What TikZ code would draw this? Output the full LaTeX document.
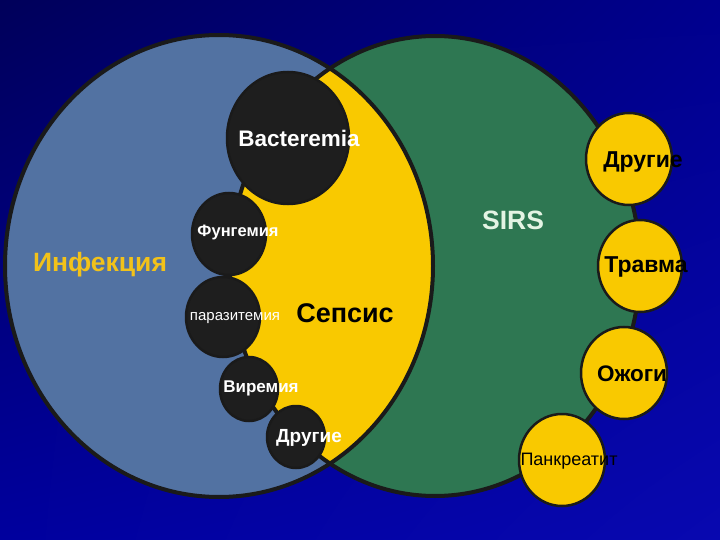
\documentclass[tikz,border=0pt]{standalone}
\usepackage{fontspec}
\setmainfont{Liberation Sans}
\usetikzlibrary{shapes.geometric,shadings}
\definecolor{NightTL}{HTML}{00005A}
\definecolor{NightTR}{HTML}{00008E}
\definecolor{NightBL}{HTML}{00009E}
\definecolor{NightBR}{HTML}{0808B0}
\definecolor{Steel}{HTML}{5272A2}
\definecolor{Forest}{HTML}{2E7752}
\definecolor{Sun}{HTML}{F9C900}
\definecolor{Coal}{HTML}{1E1E1E}
\definecolor{Rim}{HTML}{1A1A1A}
\definecolor{Mint}{HTML}{E4F4E4}
\definecolor{Amber}{HTML}{F2C21A}
\tikzset{
  ring/.style={draw=Rim, line width=4pt},
  coalball/.style={
    ellipse, draw=Rim, line width=2.5pt, fill=Coal, inner sep=0pt
  },
  sunball/.style={
    ellipse, draw=Rim, line width=2.5pt, fill=Sun, inner sep=0pt
  },
  lbl/.style={inner sep=0pt, font=\fontsize{#1}{#1}\selectfont\bfseries},
  plainlbl/.style={inner sep=0pt, font=\fontsize{#1}{#1}\selectfont}
}

\begin{document}
\begin{tikzpicture}[x=1pt,y=-1pt]
    \shade[upper left=NightTL,upper right=NightTR,lower left=NightBL,
      lower right=NightBR] (0,0) rectangle (720,540);
    \useasboundingbox (0,0) rectangle (720,540);

    % two big sets and their overlap
    \fill[Steel] (219,266) ellipse [x radius=214pt,y radius=231pt];
    \fill[Forest] (435,266) ellipse [x radius=205pt,y radius=230pt];
    \begin{scope}
      \clip (219,266) ellipse [x radius=214pt,y radius=231pt];
      \fill[Sun] (435,266) ellipse [x radius=205pt,y radius=230pt];
    \end{scope}
    \draw[ring] (219,266) ellipse [x radius=214pt,y radius=231pt];
    \draw[ring] (435,266) ellipse [x radius=205pt,y radius=230pt];

    \node[lbl=26.5,text=Amber] (infT) at (100,265) {Инфекция};
    \node[lbl=26.5,text=Mint] (sirsT) at (513,220) {SIRS};
    \node[lbl=27,text=black] (sepT) at (345,313) {Сепсис};

    % infections
    \node[coalball,minimum width=122pt,minimum height=132pt] (bact) at (288,138) {};
    \node[coalball,minimum width=74pt,minimum height=82pt] (fung) at (229,234) {};
    \node[coalball,minimum width=74pt,minimum height=80pt] (para) at (223,317) {};
    \node[coalball,minimum width=58pt,minimum height=64pt] (vir) at (249,389) {};
    \node[coalball,minimum width=58pt,minimum height=62pt] (othI) at (296,437) {};
    \node[lbl=22.5,text=white] (bactT) at (299,138) {Bacteremia};
    \node[lbl=16.5,text=white] (fungT) at (238,232) {Фунгемия};
    \node[plainlbl=15,text=white] (paraT) at (235,318) {паразитемия};
    \node[lbl=17,text=white] (virT) at (261,388) {Виремия};
    \node[lbl=19,text=white] (othIT) at (309,438) {Другие};

    % non-infectious causes
    \node[sunball,minimum width=86pt,minimum height=92pt] (othS) at (629,159) {};
    \node[sunball,minimum width=84pt,minimum height=92pt] (trav) at (640,266) {};
    \node[sunball,minimum width=86pt,minimum height=92pt] (burn) at (624,373) {};
    \node[sunball,minimum width=86pt,minimum height=92pt] (panc) at (562,460) {};
    \node[lbl=23,text=black] (othST) at (643,162) {Другие};
    \node[lbl=23,text=black] (travT) at (646,267) {Травма};
    \node[lbl=22.5,text=black] (burnT) at (632,374) {Ожоги};
    \node[plainlbl=18,text=black] (pancT) at (569,461) {Панкреатит};
  \end{tikzpicture}
\end{document}
